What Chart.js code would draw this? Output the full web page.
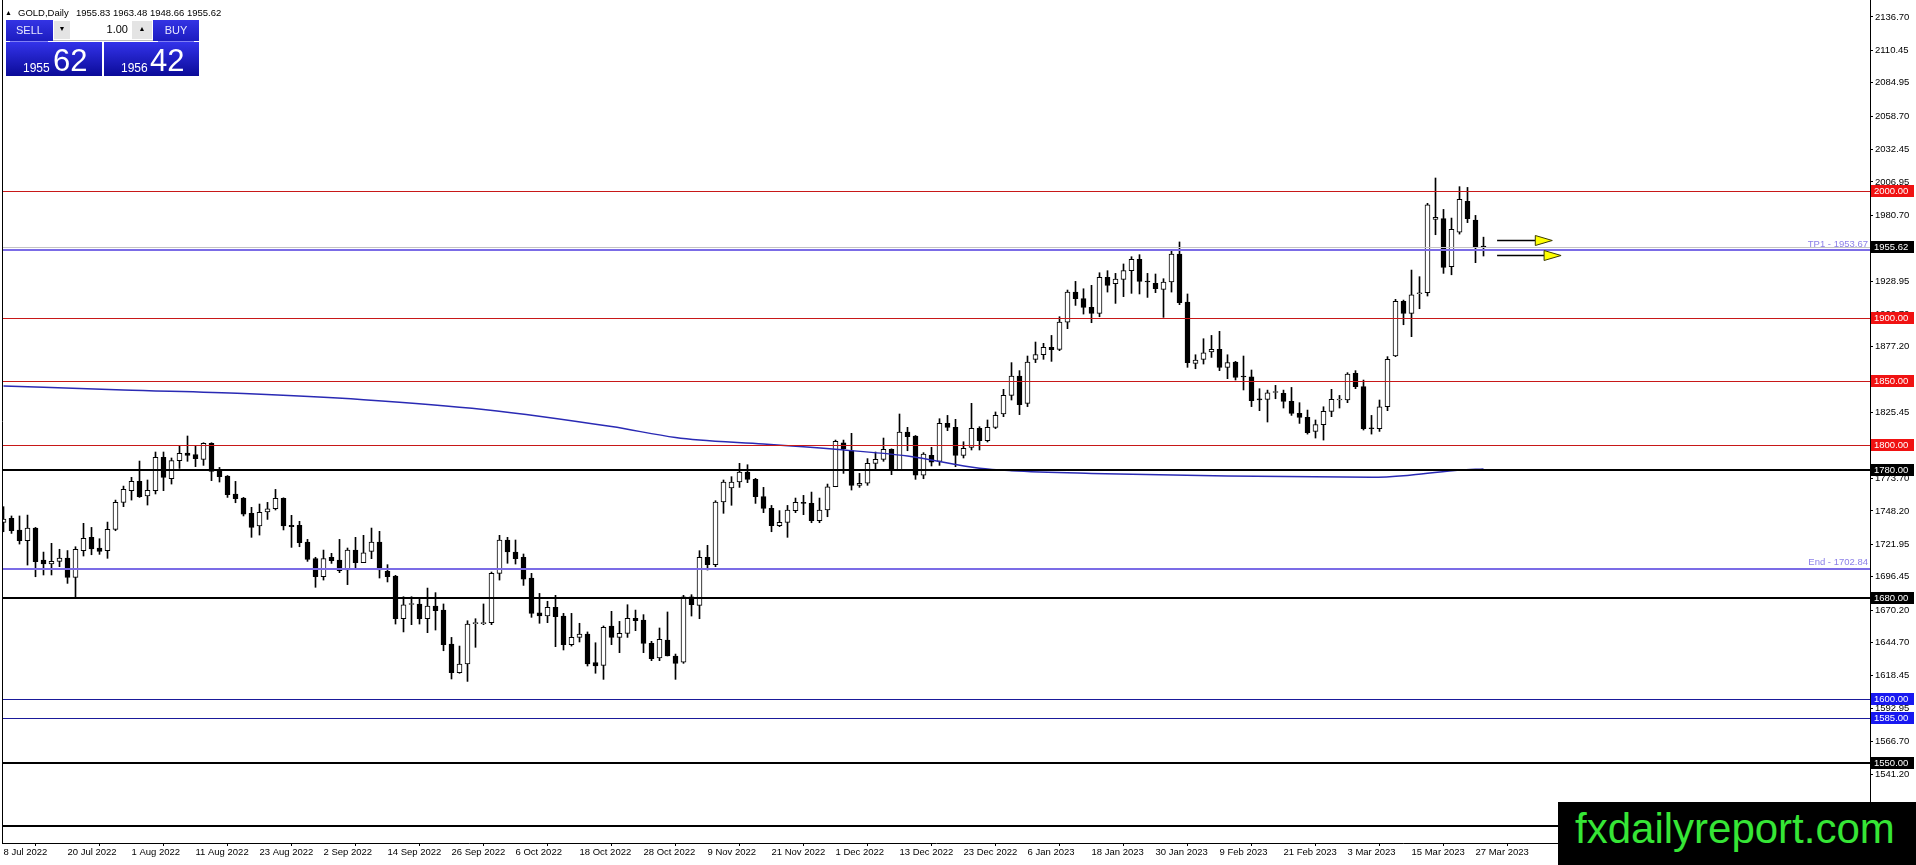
<!DOCTYPE html>
<html>
<head>
<meta charset="utf-8">
<title>GOLD,Daily</title>
<script src="https://cdn.jsdelivr.net/npm/chart.js@4.4.0/dist/chart.umd.min.js"></script>
<style>
  html, body { margin: 0; padding: 0; background: #fff; overflow: hidden; }
  #wrap { position: relative; width: 1916px; height: 865px; }
  #c { position: absolute; left: 0; top: 0; }
  .t { position: absolute; font-family: "Liberation Sans", Arial, sans-serif; white-space: pre; }
  .blue { position: absolute; }
  .topBlue { background: linear-gradient(#3434e4, #1c1cc0); }
  .lowBlue { background: linear-gradient(#3333ea, #0b0b98); }
</style>
</head>
<body>
<div id="wrap">
  <canvas id="c" width="1916" height="865"></canvas>

  <!-- заголовок графика -->
  <div class="t" style="left:5px;top:8px;font-size:7px;line-height:10px;">▲</div>
  <div class="t" style="left:18px;top:7px;font-size:9.5px;line-height:12px;">GOLD,Daily</div>
  <div class="t" style="left:76px;top:7px;font-size:9.5px;line-height:12px;">1955.83 1963.48 1948.66 1955.62</div>

  <!-- панель торговли в один клик -->
  <div class="blue topBlue" style="left:6px;top:20px;width:47px;height:21px;"></div>
  <div class="blue" style="left:10px;top:41px;width:38px;height:1px;background:#7f7ff5;"></div>
  <div class="t" style="left:6px;top:23px;width:47px;text-align:center;font-size:11px;line-height:14px;color:#e8e8ff;">SELL</div>
  <div class="blue" style="left:53px;top:20px;width:100px;height:20px;background:#fff;border-bottom:1px solid #bbb;"></div>
  <div class="blue" style="left:54px;top:21px;width:16px;height:18px;background:#e4e4e4;"></div>
  <div class="t" style="left:54px;top:23px;width:16px;text-align:center;font-size:7px;line-height:12px;">▼</div>
  <div class="t" style="left:70px;top:23px;width:58px;text-align:right;font-size:11px;line-height:13px;">1.00</div>
  <div class="blue" style="left:132px;top:21px;width:20px;height:18px;background:#e4e4e4;"></div>
  <div class="t" style="left:132px;top:23px;width:20px;text-align:center;font-size:7px;line-height:12px;">▲</div>
  <div class="blue topBlue" style="left:153px;top:20px;width:46px;height:21px;"></div>
  <div class="blue" style="left:158px;top:41px;width:36px;height:1px;background:#7f7ff5;"></div>
  <div class="t" style="left:153px;top:23px;width:46px;text-align:center;font-size:11px;line-height:14px;color:#e8e8ff;">BUY</div>
  <div class="blue lowBlue" style="left:6px;top:42px;width:96px;height:34px;"></div>
  <div class="blue lowBlue" style="left:104px;top:42px;width:95px;height:34px;"></div>
  <div class="t" style="left:23px;top:62px;font-size:12px;line-height:12px;color:#fff;">1955</div>
  <div class="t" style="left:53px;top:45px;font-size:31px;line-height:31px;color:#fff;">62</div>
  <div class="t" style="left:121px;top:62px;font-size:12px;line-height:12px;color:#fff;">1956</div>
  <div class="t" style="left:150px;top:45px;font-size:31px;line-height:31px;color:#fff;">42</div>

  <!-- водяной знак -->
  <div class="t" style="left:1558px;top:802px;width:341px;height:63px;padding-left:17px;background:#000;color:#36e636;font-size:42px;line-height:53px;">fxdailyreport.com</div>
</div>

<script>
// подписи дат на оси X (каждые 8 баров)
const dateLabels = ['8 Jul 2022', '20 Jul 2022', '1 Aug 2022', '11 Aug 2022', '23 Aug 2022', '2 Sep 2022',
  '14 Sep 2022', '26 Sep 2022', '6 Oct 2022', '18 Oct 2022', '28 Oct 2022', '9 Nov 2022', '21 Nov 2022',
  '1 Dec 2022', '13 Dec 2022', '23 Dec 2022', '6 Jan 2023', '18 Jan 2023', '30 Jan 2023', '9 Feb 2023',
  '21 Feb 2023', '3 Mar 2023', '15 Mar 2023', '27 Mar 2023'];
const labelEvery = 8;

// дневные свечи GOLD, 8 Jul 2022 .. 28 Mar 2023
const opens = [
  1739.2, 1742.3, 1733.2, 1724.8, 1734.7, 1709.5, 1706.4, 1708.5, 1711.1, 1695.9,
  1716.9, 1727.4, 1719.0, 1716.9, 1733.7, 1754.9, 1764.1, 1771.4, 1760.0, 1764.1,
  1790.3, 1773.5, 1787.7, 1793.7, 1792.4, 1788.7, 1801.3, 1780.9, 1775.6, 1761.5,
  1758.3, 1746.2, 1736.3, 1747.3, 1749.9, 1758.1, 1736.8, 1736.8, 1723.7, 1710.6,
  1696.5, 1711.7, 1709.6, 1701.7, 1717.4, 1707.5, 1716.4, 1723.7, 1700.6, 1697.0,
  1663.4, 1674.6, 1674.9, 1663.4, 1673.4, 1670.2, 1643.5, 1621.0, 1627.8, 1659.5,
  1659.5, 1660.3, 1699.1, 1725.3, 1715.9, 1711.7, 1695.4, 1668.1, 1665.5, 1672.3,
  1665.5, 1643.0, 1648.7, 1651.4, 1628.8, 1626.7, 1657.7, 1648.7, 1651.9, 1663.7,
  1662.4, 1644.0, 1632.5, 1646.6, 1634.1, 1629.3, 1680.7, 1673.9, 1711.7, 1705.9,
  1755.2, 1766.2, 1770.9, 1778.8, 1773.0, 1759.4, 1750.2, 1736.6, 1739.2, 1748.4,
  1754.6, 1754.1, 1740.5, 1748.9, 1767.2, 1801.8, 1795.6, 1768.3, 1769.9, 1785.6,
  1788.7, 1796.6, 1780.3, 1810.2, 1807.1, 1776.2, 1791.9, 1787.2, 1817.0, 1813.9,
  1791.9, 1798.2, 1813.1, 1803.4, 1813.9, 1824.4, 1839.1, 1854.3, 1832.8, 1867.4,
  1871.1, 1876.8, 1875.2, 1896.7, 1920.3, 1915.1, 1908.3, 1903.6, 1931.9, 1926.9,
  1930.3, 1937.1, 1946.0, 1928.7, 1927.2, 1922.4, 1928.2, 1950.2, 1912.5, 1864.2,
  1867.4, 1873.2, 1875.2, 1861.1, 1865.3, 1854.3, 1853.7, 1836.4, 1835.9, 1841.3,
  1840.6, 1834.3, 1824.9, 1821.8, 1810.7, 1816.0, 1826.5, 1835.4, 1835.4, 1856.4,
  1845.9, 1813.3, 1812.8, 1830.1, 1870.0, 1913.0, 1903.6, 1919.0, 1919.8, 1977.5,
  1978.0, 1940.2, 1967.5, 1991.6, 1976.9, 1955.83
];
const highs = [
  1751.5, 1744.2, 1744.2, 1744.9, 1735.2, 1715.8, 1722.7, 1718.0, 1717.0, 1720.0,
  1738.4, 1735.2, 1726.3, 1739.4, 1756.7, 1767.7, 1774.6, 1787.4, 1772.5, 1794.5,
  1794.5, 1789.8, 1799.7, 1807.1, 1799.7, 1801.8, 1801.8, 1782.4, 1776.0, 1771.4,
  1758.8, 1751.0, 1753.6, 1754.9, 1765.1, 1758.5, 1744.7, 1740.0, 1725.8, 1711.7,
  1717.4, 1714.8, 1725.8, 1719.0, 1727.4, 1729.0, 1734.7, 1732.1, 1705.9, 1697.5,
  1680.7, 1680.7, 1679.1, 1687.5, 1683.9, 1675.0, 1648.7, 1641.9, 1661.8, 1663.4,
  1675.0, 1700.1, 1729.0, 1727.4, 1725.3, 1714.3, 1699.1, 1683.3, 1677.1, 1681.8,
  1667.6, 1667.6, 1659.8, 1653.0, 1644.5, 1657.7, 1669.2, 1661.3, 1674.4, 1670.2,
  1666.6, 1645.6, 1656.1, 1668.7, 1635.6, 1681.8, 1682.3, 1716.9, 1721.1, 1756.2,
  1772.5, 1775.1, 1785.6, 1784.5, 1773.8, 1766.7, 1752.5, 1748.4, 1752.5, 1758.3,
  1760.4, 1763.0, 1758.3, 1769.3, 1803.9, 1803.9, 1809.2, 1777.7, 1789.3, 1794.5,
  1805.5, 1797.0, 1824.4, 1813.9, 1807.5, 1794.0, 1798.2, 1820.7, 1823.3, 1820.2,
  1802.6, 1832.8, 1814.4, 1819.7, 1826.0, 1843.8, 1864.8, 1858.5, 1870.0, 1881.0,
  1880.0, 1886.2, 1900.9, 1921.9, 1928.7, 1922.9, 1925.6, 1935.5, 1937.1, 1935.0,
  1942.4, 1948.1, 1949.7, 1935.0, 1934.5, 1930.8, 1953.9, 1959.7, 1918.8, 1871.0,
  1883.6, 1886.2, 1889.4, 1871.0, 1865.8, 1870.0, 1859.0, 1844.3, 1843.2, 1846.9,
  1843.2, 1845.3, 1833.3, 1827.5, 1819.7, 1830.1, 1843.8, 1839.0, 1856.9, 1858.5,
  1851.1, 1823.3, 1835.4, 1869.5, 1914.6, 1914.0, 1937.6, 1932.4, 1990.1, 2010.0,
  1985.3, 1978.5, 2003.2, 2002.6, 1980.6, 1963.48
];
const lows = [
  1731.8, 1730.5, 1722.1, 1705.6, 1696.4, 1697.8, 1697.8, 1704.3, 1691.2, 1680.7,
  1712.7, 1713.7, 1714.0, 1710.9, 1732.6, 1751.5, 1756.7, 1758.8, 1752.8, 1761.5,
  1764.1, 1769.3, 1781.6, 1787.2, 1783.0, 1784.0, 1772.0, 1770.9, 1758.8, 1754.6,
  1744.2, 1727.4, 1729.2, 1741.5, 1748.9, 1733.2, 1719.5, 1720.0, 1708.5, 1688.1,
  1693.8, 1706.9, 1699.6, 1690.2, 1703.3, 1707.5, 1710.6, 1695.4, 1692.3, 1659.2,
  1653.0, 1658.7, 1659.2, 1652.4, 1654.5, 1638.2, 1616.0, 1620.5, 1614.1, 1640.9,
  1658.7, 1658.7, 1693.8, 1707.0, 1706.4, 1689.6, 1664.5, 1659.8, 1660.3, 1641.4,
  1638.8, 1641.9, 1645.1, 1626.2, 1620.5, 1615.7, 1643.0, 1636.7, 1648.7, 1654.0,
  1636.7, 1630.4, 1630.4, 1634.1, 1615.7, 1628.3, 1665.5, 1663.4, 1701.7, 1704.3,
  1746.3, 1752.6, 1766.7, 1770.4, 1754.1, 1746.8, 1731.8, 1735.8, 1727.4, 1746.8,
  1745.2, 1738.9, 1738.9, 1743.6, 1767.2, 1777.7, 1764.6, 1766.7, 1768.3, 1781.4,
  1787.2, 1776.7, 1780.3, 1795.5, 1773.0, 1773.5, 1783.5, 1784.0, 1811.3, 1783.0,
  1789.8, 1796.1, 1796.1, 1802.4, 1812.9, 1822.3, 1835.4, 1823.9, 1830.2, 1864.8,
  1867.4, 1865.8, 1874.2, 1891.5, 1909.8, 1903.0, 1896.2, 1900.9, 1920.3, 1911.4,
  1916.7, 1919.3, 1918.8, 1916.1, 1919.8, 1900.4, 1920.3, 1910.4, 1861.1, 1860.0,
  1863.7, 1868.9, 1858.5, 1852.2, 1851.1, 1843.3, 1830.2, 1827.0, 1818.1, 1836.4,
  1829.1, 1823.3, 1817.0, 1808.6, 1805.5, 1803.9, 1822.3, 1829.1, 1833.3, 1844.3,
  1811.8, 1808.6, 1810.7, 1827.0, 1869.5, 1894.6, 1885.2, 1907.2, 1917.2, 1965.4,
  1935.0, 1933.9, 1965.9, 1974.9, 1943.4, 1948.66
];
const closes = [
  1741.8, 1732.6, 1724.8, 1734.7, 1708.2, 1706.4, 1708.5, 1711.1, 1695.9, 1718.0,
  1726.6, 1718.2, 1716.4, 1733.7, 1754.9, 1765.1, 1771.4, 1759.4, 1764.3, 1790.3,
  1774.6, 1787.7, 1793.4, 1791.9, 1789.2, 1801.3, 1779.3, 1775.1, 1760.9, 1757.8,
  1745.7, 1735.2, 1747.0, 1749.9, 1758.1, 1736.3, 1735.8, 1723.2, 1710.1, 1696.5,
  1710.6, 1709.0, 1701.2, 1717.4, 1707.5, 1715.3, 1723.7, 1701.7, 1696.5, 1663.4,
  1674.4, 1675.1, 1663.4, 1673.4, 1669.7, 1643.0, 1621.0, 1627.8, 1659.2, 1659.9,
  1660.0, 1699.1, 1725.3, 1715.9, 1710.6, 1694.4, 1667.6, 1665.5, 1672.3, 1665.0,
  1643.0, 1648.7, 1651.4, 1627.8, 1626.2, 1656.6, 1648.7, 1651.9, 1663.7, 1661.8,
  1644.0, 1632.0, 1647.2, 1634.1, 1628.3, 1680.7, 1674.4, 1711.7, 1705.9, 1755.2,
  1770.9, 1770.9, 1778.8, 1773.0, 1759.4, 1750.2, 1736.6, 1739.2, 1748.9, 1754.9,
  1754.1, 1740.5, 1748.9, 1767.2, 1802.9, 1797.1, 1768.3, 1769.9, 1785.6, 1788.7,
  1796.6, 1780.3, 1810.2, 1806.6, 1776.2, 1792.9, 1786.6, 1817.0, 1813.9, 1791.9,
  1797.4, 1813.1, 1803.4, 1813.9, 1823.3, 1839.1, 1854.3, 1831.7, 1865.3, 1871.1,
  1876.8, 1875.0, 1896.7, 1920.3, 1915.1, 1908.3, 1903.6, 1931.9, 1925.6, 1930.6,
  1937.1, 1946.0, 1928.7, 1928.2, 1923.0, 1928.2, 1950.2, 1911.9, 1864.8, 1866.8,
  1872.6, 1875.2, 1861.1, 1864.8, 1853.2, 1853.5, 1834.9, 1835.4, 1841.1, 1841.7,
  1834.3, 1824.9, 1821.8, 1809.7, 1816.0, 1826.5, 1835.9, 1835.9, 1855.8, 1845.9,
  1812.8, 1812.8, 1830.1, 1867.4, 1913.0, 1903.6, 1918.2, 1919.6, 1989.0, 1979.0,
  1939.7, 1969.6, 1993.2, 1978.0, 1956.0, 1955.62
];

const maBars = [0, 15, 30, 45, 60, 76, 84, 87, 95, 104, 113, 122, 126, 136, 153, 171, 176, 182, 185];
const maValues = [1846.5, 1843.3, 1840.5, 1835.7, 1828.0, 1814.5, 1805.9, 1803.9, 1800.8, 1796.6,
  1791.3, 1781.7, 1779.8, 1777.7, 1775.6, 1774.6, 1776.4, 1780.3, 1781.2];

// подписи правой шкалы цен
const priceTicks = [2136.70, 2110.45, 2084.95, 2058.70, 2032.45, 2006.95, 1980.70, 1954.45, 1928.95,
  1902.70, 1877.20, 1850.95, 1825.45, 1799.20, 1773.70, 1748.20, 1721.95, 1696.45, 1670.20, 1644.70,
  1618.45, 1592.95, 1566.70, 1541.20, 1515.70];

// горизонтальные уровни
const redLevels = [2000, 1900, 1850, 1800];
const blackLevels = [1780, 1680, 1550, 1500];
const blueLevels = [1600, 1585];
const tpLevel = 1953.67;
const endLevel = 1702.84;
const bidPrice = 1955.62;

// стрелки справа от последней свечи
const arrowFromBar = [186.7, 186.7];
const arrowToBar = [193.6, 194.7];
const arrowPrice = [1961.6, 1949.1];

const AXIS_FONT = { family: 'Liberation Sans', size: 9.5 };

// рисуем уровни, подписи и стрелки поверх свечей
const mtDecor = {
  id: 'mtDecor',
  afterDatasetsDraw(chart) {
    const { ctx, chartArea: a, scales: { x, y } } = chart;
    ctx.save();
    ctx.beginPath();
    ctx.rect(a.left, a.top, a.right - a.left, a.bottom - a.top);
    ctx.clip();

    const hline = (p, color, w) => {
      let py = Math.round(y.getPixelForValue(p));
      if (w % 2) py += 0.5;
      ctx.strokeStyle = color;
      ctx.lineWidth = w;
      ctx.beginPath();
      ctx.moveTo(a.left, py);
      ctx.lineTo(a.right, py);
      ctx.stroke();
    };
    hline(bidPrice, '#c4c4c4', 1);
    redLevels.forEach(p => hline(p, '#c81818', 1));
    blackLevels.forEach(p => hline(p, '#000000', 2));
    blueLevels.forEach(p => hline(p, '#1a1a9a', 1));
    hline(tpLevel, '#7b6ce6', 2);
    hline(endLevel, '#7b6ce6', 2);

    // текстовые метки линий
    ctx.font = '9.5px "Liberation Sans"';
    ctx.fillStyle = '#8c80e8';
    ctx.textAlign = 'right';
    ctx.textBaseline = 'bottom';
    ctx.fillText('TP1 - 1953.67', a.right - 2, y.getPixelForValue(tpLevel) - 1);
    ctx.fillText('End - 1702.84', a.right - 2, y.getPixelForValue(endLevel) - 1);

    // стрелки
    arrowPrice.forEach((p, k) => {
      const py = Math.round(y.getPixelForValue(p)) + 0.5;
      const x0 = x.getPixelForValue(arrowFromBar[k]);
      const x1 = x.getPixelForValue(arrowToBar[k]);
      ctx.strokeStyle = '#000';
      ctx.lineWidth = 1.5;
      ctx.beginPath();
      ctx.moveTo(x0, py);
      ctx.lineTo(x1 - 17, py);
      ctx.stroke();
      ctx.beginPath();
      ctx.moveTo(x1, py);
      ctx.lineTo(x1 - 17, py - 5);
      ctx.lineTo(x1 - 17, py + 5);
      ctx.closePath();
      ctx.fillStyle = '#ffff00';
      ctx.fill();
      ctx.lineWidth = 1;
      ctx.strokeStyle = '#3a3a00';
      ctx.stroke();
    });
    ctx.restore();

    // левая рамка
    ctx.save();
    ctx.strokeStyle = '#000';
    ctx.lineWidth = 1;
    ctx.beginPath();
    ctx.moveTo(a.left + 0.5, 0);
    ctx.lineTo(a.left + 0.5, a.bottom);
    ctx.stroke();
    ctx.restore();
  },
  afterDraw(chart) {
    const { ctx, chartArea: a, scales: { y } } = chart;
    const box = (p, bg, txt) => {
      const py = Math.round(y.getPixelForValue(p));
      ctx.fillStyle = bg;
      ctx.fillRect(a.right + 1, py - 6, 43, 12);
      ctx.fillStyle = '#fff';
      ctx.font = '9.5px "Liberation Sans"';
      ctx.textAlign = 'left';
      ctx.textBaseline = 'middle';
      ctx.fillText(txt, a.right + 4, py + 0.5);
    };
    ctx.save();
    redLevels.forEach(p => box(p, '#f01212', p.toFixed(2)));
    blackLevels.forEach(p => box(p, '#000', p.toFixed(2)));
    blueLevels.forEach(p => box(p, '#1818f0', p.toFixed(2)));
    box(bidPrice, '#000', bidPrice.toFixed(2));
    ctx.restore();
  }
};

document.addEventListener('DOMContentLoaded', () => {
  const wickData = highs.map((h, i) => ({ x: i, y: [lows[i], h] }));
  const bodyData = opens.map((o, i) => ({ x: i, y: [Math.min(o, closes[i]), Math.max(o, closes[i])] }));
  const bodyColors = opens.map((o, i) => (closes[i] - o > 0.3 ? '#ffffff' : '#000000'));
  const maData = maBars.map((b, k) => ({ x: b, y: maValues[k] }));

  new Chart(document.getElementById('c').getContext('2d'), {
    type: 'bar',
    data: {
      datasets: [
        { type: 'line', data: maData, borderColor: '#2a2ab4', borderWidth: 1.5, pointRadius: 0,
          cubicInterpolationMode: 'monotone', order: 0 },
        { data: wickData, backgroundColor: '#000', borderWidth: 0, barThickness: 1, grouped: false, order: 2 },
        { data: bodyData, backgroundColor: bodyColors, borderColor: '#000', borderWidth: 1,
          borderSkipped: false, barThickness: 5, minBarLength: 1, grouped: false, order: 1 }
      ]
    },
    options: {
      responsive: false,
      animation: false,
      devicePixelRatio: 1,
      layout: { padding: { left: 2, top: 0, right: 0, bottom: 0 } },
      plugins: { legend: { display: false }, tooltip: { enabled: false }, title: { display: false } },
      scales: {
        x: {
          type: 'linear',
          offset: false,
          min: -0.1875,
          max: 233.3125,
          afterBuildTicks: s => { s.ticks = dateLabels.map((d, k) => ({ value: k * labelEvery })); },
          afterFit: s => { s.height = 22; s.paddingLeft = 0; s.paddingRight = 0; },
          grid: { display: true, drawOnChartArea: false, drawTicks: true, tickLength: 3, color: '#000' },
          border: { display: true, color: '#000', width: 1 },
          ticks: {
            callback: (v, idx) => dateLabels[idx],
            align: 'start', maxRotation: 0, autoSkip: false, padding: 1,
            color: '#000', font: AXIS_FONT
          }
        },
        y: {
          position: 'right',
          min: 1487.0,
          max: 2150.0,
          afterBuildTicks: s => { s.ticks = priceTicks.map(v => ({ value: v })); },
          afterFit: s => { s.width = 46; s.paddingTop = 0; s.paddingBottom = 0; },
          grid: { display: true, drawOnChartArea: false, drawTicks: true, tickLength: 3, color: '#000' },
          border: { display: true, color: '#000', width: 1 },
          ticks: {
            callback: v => Number(v).toFixed(2),
            autoSkip: false, padding: 2, color: '#000', font: AXIS_FONT
          }
        }
      }
    },
    plugins: [mtDecor]
  });
});
</script>
</body>
</html>
